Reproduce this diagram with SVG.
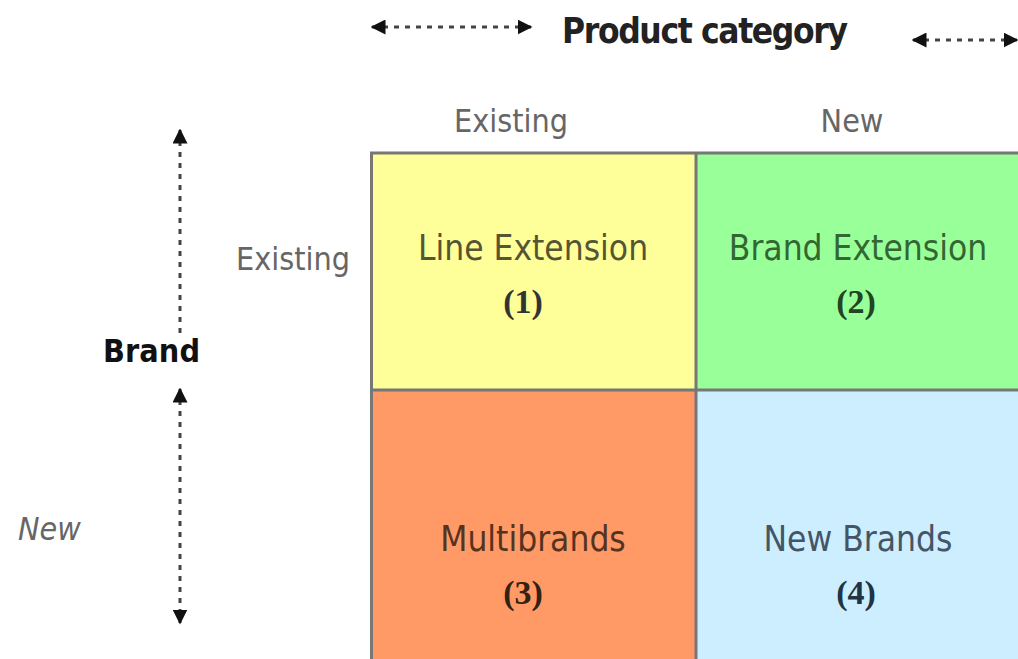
<svg xmlns="http://www.w3.org/2000/svg" width="1018" height="659" viewBox="0 0 1018 659">
<style>
.lbl{font-family:"DejaVu Sans Condensed","DejaVu Sans",sans-serif;fill:#666;font-size:32px}
.cell{font-family:"DejaVu Sans Condensed","DejaVu Sans",sans-serif;font-size:35px;text-anchor:middle}
.num{font-family:"Liberation Serif",serif;font-size:34px;font-weight:bold;text-anchor:middle}
.arr{stroke:#444;stroke-width:3;stroke-dasharray:5,6;fill:none}
.grid{stroke:#777;stroke-width:3}
</style>
<defs>
<marker id="ah" viewBox="0 0 10 10" refX="9" refY="5" markerWidth="5" markerHeight="5" orient="auto-start-reverse" markerUnits="strokeWidth">
<path d="M0,0 L10,5 L0,10 z" fill="#111"/>
</marker>
</defs>
<rect width="1018" height="659" fill="#fff"/>
<g id="connectors">
<line class="arr" x1="372" y1="27" x2="531" y2="27" marker-start="url(#ah)" marker-end="url(#ah)"/>
<line class="arr" x1="913" y1="40" x2="1017" y2="40" marker-start="url(#ah)" marker-end="url(#ah)"/>
<line class="arr" x1="180" y1="130" x2="180" y2="338" marker-start="url(#ah)"/>
<line class="arr" x1="180" y1="389" x2="180" y2="623" marker-start="url(#ah)" marker-end="url(#ah)"/>
</g>
<g id="title"><text x="562" y="43" font-family="DejaVu Sans Condensed,DejaVu Sans,sans-serif" font-weight="bold" font-size="35" fill="#222" textLength="286">Product category</text></g>
<g id="brand"><text x="103" y="362" font-family="DejaVu Sans Condensed,DejaVu Sans,sans-serif" font-weight="bold" font-size="32" fill="#111" textLength="97">Brand</text></g>
<g id="col-existing"><text class="lbl" x="511" y="132" text-anchor="middle">Existing</text></g>
<g id="col-new"><text class="lbl" x="852" y="132" text-anchor="middle">New</text></g>
<g id="row-existing"><text class="lbl" x="236" y="270">Existing</text></g>
<g id="row-new"><text class="lbl" x="18" y="540" font-style="italic">New</text></g>
<g id="cell1">
<rect x="370" y="152" width="326" height="238" fill="#ffff99"/>
<text class="cell" x="533" y="260" fill="#555533">Line Extension</text>
<text class="num" x="523" y="313" fill="#333">(1)</text>
</g>
<g id="cell2">
<rect x="696" y="152" width="322" height="238" fill="#99ff99"/>
<text class="cell" x="858" y="260" fill="#336633">Brand Extension</text>
<text class="num" x="856" y="313" fill="#224422">(2)</text>
</g>
<g id="cell3">
<rect x="370" y="390" width="326" height="269" fill="#ff9966"/>
<text class="cell" x="533" y="551" fill="#553322">Multibrands</text>
<text class="num" x="523" y="604" fill="#332211">(3)</text>
</g>
<g id="cell4">
<rect x="696" y="390" width="322" height="269" fill="#cceeff"/>
<text class="cell" x="858" y="551" fill="#445566">New Brands</text>
<text class="num" x="856" y="604" fill="#223344">(4)</text>
</g>
<g id="gridlines">
<line class="grid" x1="370" y1="153" x2="1018" y2="153"/>
<line class="grid" x1="371.5" y1="152" x2="371.5" y2="659"/>
<line class="grid" x1="696" y1="152" x2="696" y2="659"/>
<line class="grid" x1="370" y1="390" x2="1018" y2="390"/>
</g>
</svg>
